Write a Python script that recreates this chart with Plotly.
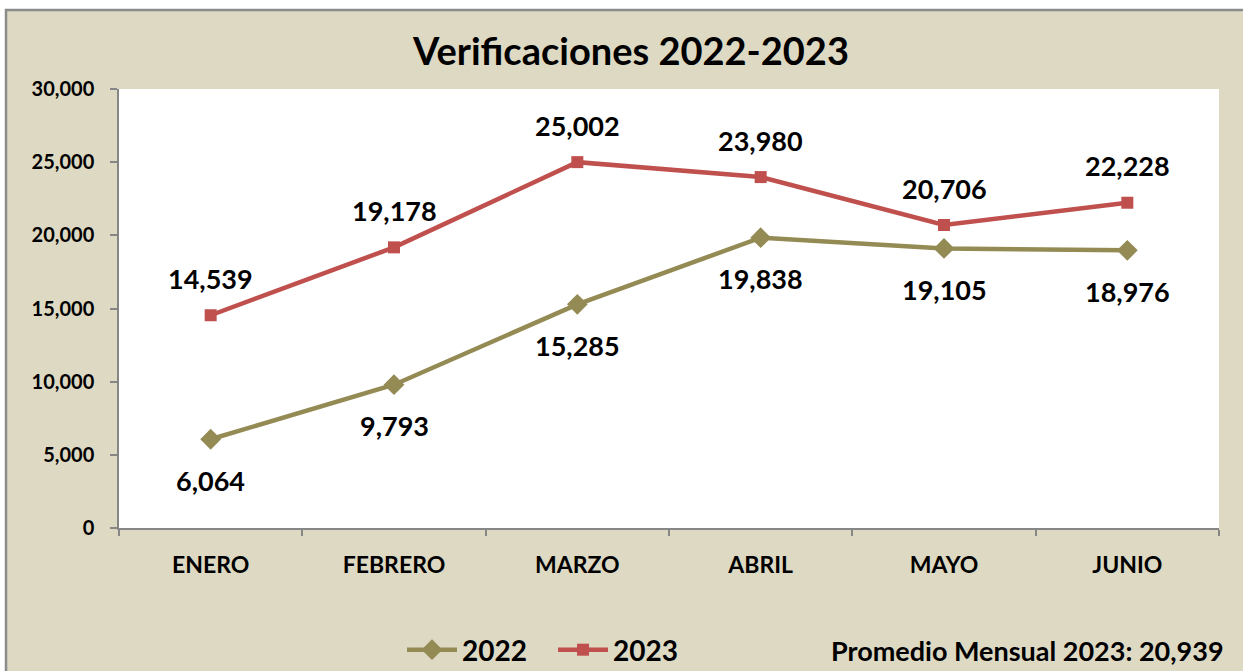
import plotly.graph_objects as go

meses = ["ENERO", "FEBRERO", "MARZO", "ABRIL", "MAYO", "JUNIO"]
v2022 = [6064, 9793, 15285, 19838, 19105, 18976]
v2023 = [14539, 19178, 25002, 23980, 20706, 22228]
promedio_2023 = 20939

C2022 = "#948A54"
C2023 = "#C0504D"
BEIGE = "#DDD9C3"
FONT = "Lato"

W, H = 1243, 671
ML, MR, MT, MB = 119, 24, 89, 143
PW, PH = W - ML - MR, H - MT - MB


def px_x(p):
    return (p - ML) / PW


def px_y(p):
    return (H - MB - p) / PH


fig = go.Figure()
fig.add_trace(go.Scatter(
    x=meses, y=v2022, name="<b>2022</b>", mode="lines+markers",
    line=dict(color=C2022, width=4.5),
    marker=dict(symbol="diamond", size=16, color=C2022),
))
fig.add_trace(go.Scatter(
    x=meses, y=v2023, name="<b>2023</b>", mode="lines+markers",
    line=dict(color=C2023, width=4.5),
    marker=dict(symbol="square", size=12, color=C2023),
))

annotations = []
for m, v in zip(meses, v2023):
    annotations.append(dict(x=m, y=v, text=f"<b>{v:,}</b>", showarrow=False,
                            yshift=37, font=dict(family=FONT, size=27, color="#000")))
for m, v in zip(meses, v2022):
    annotations.append(dict(x=m, y=v, text=f"<b>{v:,}</b>", showarrow=False,
                            yshift=-41, font=dict(family=FONT, size=27, color="#000")))
annotations.append(dict(
    xref="paper", yref="paper", x=px_x(1226), y=px_y(650), xanchor="right", yanchor="middle",
    text=f"<b>Promedio Mensual 2023: {promedio_2023:,}</b>", showarrow=False,
    font=dict(family=FONT, size=27, color="#000")))

shapes = [
    dict(type="rect", xref="paper", yref="paper", layer="below",
         x0=px_x(6), x1=px_x(1300), y0=px_y(720), y1=px_y(10),
         fillcolor=BEIGE, line=dict(color="#8C8C8C", width=2.5)),
    dict(type="rect", xref="paper", yref="paper", layer="below",
         x0=0, x1=1, y0=0, y1=1, fillcolor="white", line=dict(width=0)),
]

fig.update_layout(
    width=W, height=H,
    margin=dict(l=ML, r=MR, t=MT, b=MB, autoexpand=False),
    paper_bgcolor="white",
    plot_bgcolor="rgba(0,0,0,0)",
    title=dict(text="<b>Verificaciones 2022-2023</b>", x=631 / W, xref="container",
               xanchor="center", y=1 - 52 / H, yanchor="middle",
               font=dict(family=FONT, size=38, color="#000")),
    font=dict(family=FONT, color="#000"),
    showlegend=True,
    legend=dict(orientation="h", x=px_x(402), y=px_y(650), xanchor="left", yanchor="middle",
                bgcolor="rgba(0,0,0,0)", font=dict(family=FONT, size=28, color="#000"),
                itemwidth=50, entrywidth=86, entrywidthmode="pixels",
                traceorder="normal"),
    annotations=annotations,
    shapes=shapes,
)
fig.update_xaxes(
    type="category", range=[-0.5, 5.5], showline=True, linecolor="#868686", linewidth=1.5,
    ticks="outside", tickson="boundaries", ticklen=6, tickcolor="#868686", tickwidth=1.5,
    showgrid=False, zeroline=False,
    tickfont=dict(family=FONT, size=23, color="#000"),
    tickvals=meses, ticktext=[f"<b>{m}</b>" for m in meses],
    ticklabelstandoff=16,
)
fig.update_yaxes(
    range=[0, 30000], dtick=5000, tickformat=",",
    showline=True, linecolor="#868686", linewidth=1.5,
    ticks="outside", ticklen=7, tickcolor="#868686", tickwidth=1.5,
    showgrid=False, zeroline=False,
    tickfont=dict(family=FONT, size=20, color="#000"),
    tickprefix="<b>", ticksuffix="</b>",
    ticklabelstandoff=12,
)

fig.write_html("out.html")
